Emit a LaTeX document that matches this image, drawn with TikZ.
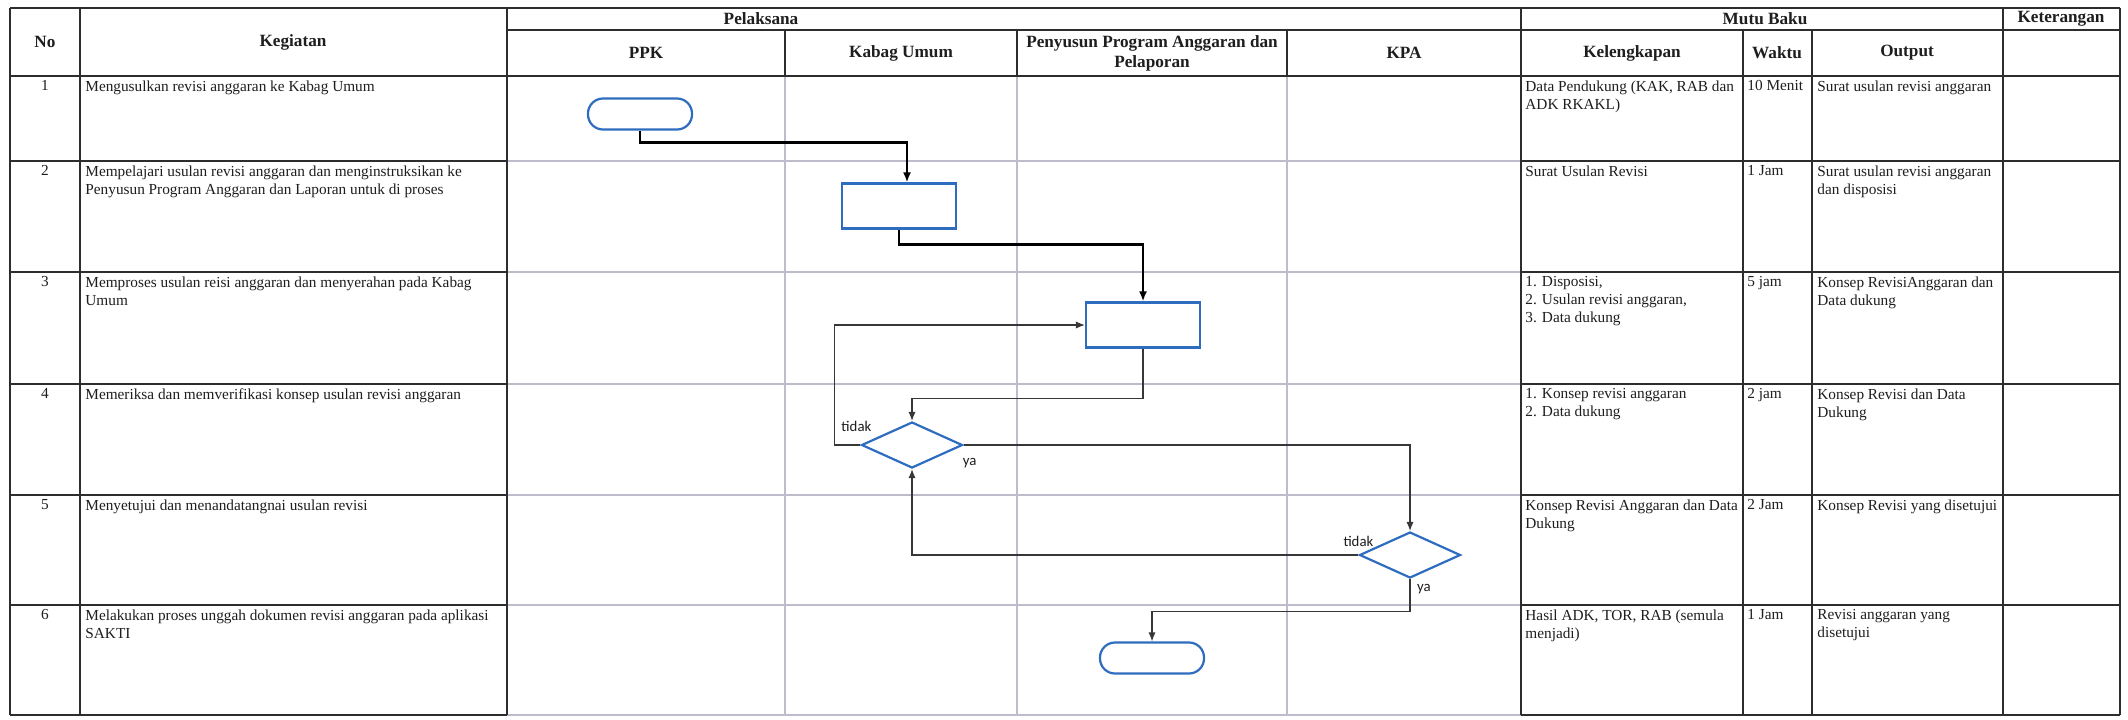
\documentclass[tikz,border=0pt]{standalone}
\usepackage{fontspec}
\setmainfont{Liberation Serif}
\newfontfamily\lblfont{Carlito}
\usetikzlibrary{shapes.geometric,arrows.meta,calc}
\definecolor{flowblue}{RGB}{46,108,192}
\definecolor{laneline}{RGB}{188,188,204}
\definecolor{tabline}{RGB}{45,45,45}
\definecolor{conn}{RGB}{55,55,55}
\definecolor{txt}{RGB}{30,30,30}
\begin{document}
\begin{tikzpicture}[x=0.5pt,y=-0.5pt,
  dark/.style={draw=tabline,line width=0.9pt},
  light/.style={draw=laneline,line width=0.6pt},
  body/.style={font=\fontsize{7.65}{9}\selectfont,text=txt,inner sep=0pt,anchor=north west,align=left},
  head/.style={font=\fontsize{8.6}{10}\selectfont\bfseries,text=txt,inner sep=0pt,align=center},
  num/.style={font=\fontsize{7.65}{9}\selectfont,text=txt,inner sep=0pt,anchor=north},
  term/.style={draw=flowblue,line width=1.1pt,rounded corners=7.5pt,minimum width=52pt,minimum height=15.5pt,inner sep=0pt},
  proc/.style={draw=flowblue,line width=1.1pt,minimum width=57pt,minimum height=22.5pt,inner sep=0pt},
  decision/.style={diamond,draw=flowblue,line width=1.1pt,minimum width=50.5pt,minimum height=23pt,inner sep=0pt},
  thickflow/.style={draw=black,line width=1.2pt,-{Latex[length=5pt,width=4pt]}},
  thinflow/.style={draw=conn,line width=0.6pt,-{Latex[length=4.5pt,width=3.6pt]}},
  lbl/.style={font=\lblfont\fontsize{7.4}{8.5}\selectfont,text=txt,inner sep=0pt}
]
\useasboundingbox[fill=white] (0,0) rectangle (2128,719);

% ---- light lane grid ----
\foreach \yy in {161,272,384,495,605,715} \draw[light] (507,\yy) -- (1521,\yy);
\foreach \xx in {785,1017,1287} \draw[light] (\xx,76) -- (\xx,715);

% ---- dark table lines ----
\draw[dark] (10,8) -- (2120,8);
\draw[dark] (10,8) -- (10,715);
\draw[dark] (2120,8) -- (2120,715);
\draw[dark] (507,30) -- (2120,30);
\draw[dark] (10,76) -- (2120,76);
\foreach \xx in {80,507,1521,2003} \draw[dark] (\xx,8) -- (\xx,715);
\foreach \xx in {1743,1812} \draw[dark] (\xx,30) -- (\xx,715);
\foreach \xx in {785,1017,1287} \draw[dark] (\xx,30) -- (\xx,76);
\foreach \yy in {161,272,384,495,605,715} {
  \draw[dark] (10,\yy) -- (507,\yy);
  \draw[dark] (1521,\yy) -- (2120,\yy);
}

% ---- headers ----
\node[head] (hno) at (45,42) {No};
\node[head] (hkeg) at (293,42) {Kegiatan};
\node[head] (hpel) at (761,19) {Pelaksana};
\node[head] (hmutu) at (1765,19) {Mutu Baku};
\node[head] (hket) at (2061,19) {Keterangan};
\node[head] (hppk) at (646,53) {PPK};
\node[head] (hkab) at (901,53) {Kabag Umum};
\node[head] (hpen) at (1152,53) {Penyusun Program Anggaran dan\\Pelaporan};
\node[head] (hkpa) at (1404,53) {KPA};
\node[head] (hkel) at (1632,53) {Kelengkapan};
\node[head] (hwak) at (1777,53) {Waktu};
\node[head] (hout) at (1907,53) {Output};

% ---- row texts ----
\node[num] (n1) at (45,80) {1};
\node[num] (n2) at (45,165) {2};
\node[num] (n3) at (45,276) {3};
\node[num] (n4) at (45,388) {4};
\node[num] (n5) at (45,499) {5};
\node[num] (n6) at (45,609) {6};

\node[body] (k1) at (85,80) {Mengusulkan revisi anggaran ke Kabag Umum};
\node[body] (k2) at (85,165) {Mempelajari usulan revisi anggaran dan menginstruksikan ke\\Penyusun Program Anggaran dan Laporan untuk di proses};
\node[body] (k3) at (85,276) {Memproses usulan reisi anggaran dan menyerahan pada Kabag\\Umum};
\node[body] (k4) at (85,388) {Memeriksa dan memverifikasi konsep usulan revisi anggaran};
\node[body] (k5) at (85,499) {Menyetujui dan menandatangnai usulan revisi};
\node[body] (k6) at (85,609) {Melakukan proses unggah dokumen revisi anggaran pada aplikasi\\SAKTI};

\node[body] (kl1) at (1525,80) {Data Pendukung (KAK, RAB dan\\ADK RKAKL)};
\node[body] (kl2) at (1525,165) {Surat Usulan Revisi};
\node[body] (kl3) at (1525,276) {1. Disposisi,\\2. Usulan revisi anggaran,\\3. Data dukung};
\node[body] (kl4) at (1525,388) {1. Konsep revisi anggaran\\2. Data dukung};
\node[body] (kl5) at (1525,499) {Konsep Revisi Anggaran dan Data\\Dukung};
\node[body] (kl6) at (1525,609) {Hasil ADK, TOR, RAB (semula\\menjadi)};

\node[body] (w1) at (1747,80) {10 Menit};
\node[body] (w2) at (1747,165) {1 Jam};
\node[body] (w3) at (1747,276) {5 jam};
\node[body] (w4) at (1747,388) {2 jam};
\node[body] (w5) at (1747,499) {2 Jam};
\node[body] (w6) at (1747,609) {1 Jam};

\node[body] (o1) at (1817,80) {Surat usulan revisi anggaran};
\node[body] (o2) at (1817,165) {Surat usulan revisi anggaran\\dan disposisi};
\node[body] (o3) at (1817,276) {Konsep RevisiAnggaran dan\\Data dukung};
\node[body] (o4) at (1817,388) {Konsep Revisi dan Data\\Dukung};
\node[body] (o5) at (1817,499) {Konsep Revisi yang disetujui};
\node[body] (o6) at (1817,609) {Revisi anggaran yang\\disetujui};

% ---- flowchart ----
\node[term] (start) at (640,114) {};
\node[proc] (kabag) at (899,206) {};
\node[proc] (peny) at (1143,325) {};
\node[decision] (d1) at (912,445) {};
\node[decision] (d2) at (1410,555) {};
\node[term] (finish) at (1152,658) {};

\draw[thickflow] (start.south) -- ++(0,12) -| ($(kabag.north)+(8,0)$);
\draw[thickflow] (kabag.south) -- ++(0,15) -| (peny.north);
\draw[thinflow] (peny.south) -- ++(0,50) -| (d1.north);
\draw[thinflow] (d1.west) -- ++(-26,0) |- (peny.west);
\draw[thinflow] (d1.east) -| (d2.north);
\draw[thinflow] (d2.west) -| (d1.south);
\draw[thinflow] (d2.south) -- ++(0,32) -| (finish.north);

\node[lbl] (t1) at ($(d1.west)+(-4,-19)$) {tidak};
\node[lbl] (y1) at ($(d1.east)+(6,18)$) {ya};
\node[lbl] (t2) at ($(d2.west)+(0,-14)$) {tidak};
\node[lbl] (y2) at ($(d2.south)+(14,10)$) {ya};
\end{tikzpicture}
\end{document}
